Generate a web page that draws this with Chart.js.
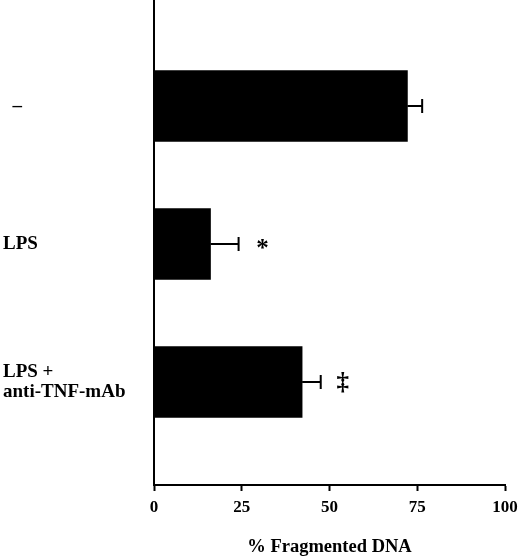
<!DOCTYPE html>
<html lang="en">
<head>
  <meta charset="UTF-8">
  <title>% Fragmented DNA</title>
  <style>
    body {
      margin: 0;
      padding: 0;
      background-color: #ffffff;
    }
    #wrap {
      position: relative;
      width: 520px;
      height: 558px;
    }
  </style>
</head>
<body>

  <div id="wrap">
    <canvas id="dnaChart"></canvas>
  </div>

  <script src="https://cdn.jsdelivr.net/npm/chart.js"></script>
  <script>
    // groups from top to bottom (multi-line labels as arrays)
    const groups = [['  –'], ['LPS'], ['LPS +', 'anti-TNF-mAb']];
    const fragmented = [72.2, 16.1, 42.2];
    const errors = [4.2, 8.0, 5.3];
    // significance marks and where they sit on the % axis
    const marks = ['', '*', '‡'];
    const markAt = [null, 30.9, 53.8];
    const xTicks = [0, 25, 50, 75, 100];

    const serif = 'Liberation Serif, Times New Roman, serif';

    // error bars + significance marks
    const errorBars = {
      id: 'errorBars',
      afterDatasetsDraw(chart) {
        const ctx = chart.ctx;
        const xs = chart.scales.x;
        const ys = chart.scales.y;
        ctx.save();
        ctx.strokeStyle = '#000';
        ctx.fillStyle = '#000';
        ctx.lineWidth = 2;
        fragmented.forEach((v, i) => {
          const x0 = xs.getPixelForValue(v);
          const x1 = xs.getPixelForValue(v + errors[i]);
          const y = ys.getPixelForValue(i);
          ctx.beginPath();
          ctx.moveTo(x0, y);
          ctx.lineTo(x1, y);
          ctx.moveTo(x1, y - 7);
          ctx.lineTo(x1, y + 7);
          ctx.stroke();

          if (marks[i]) {
            ctx.font = 'bold 25px ' + serif;
            ctx.textAlign = 'center';
            ctx.textBaseline = 'alphabetic';
            const m = ctx.measureText(marks[i]);
            const yy = y + (m.actualBoundingBoxAscent - m.actualBoundingBoxDescent) / 2;
            ctx.fillText(marks[i], xs.getPixelForValue(markAt[i]), yy);
          }
        });
        ctx.restore();
      }
    };

    function generateChart() {
      const ctx = document.getElementById('dnaChart').getContext('2d');

      new Chart(ctx, {
        type: 'bar',
        data: {
          datasets: [{
            data: fragmented.map((v, i) => ({ x: v, y: i })),
            backgroundColor: '#000',
            borderWidth: 0,
            barThickness: 71
          }]
        },
        options: {
          indexAxis: 'y',
          responsive: true,
          maintainAspectRatio: false,
          animation: false,
          layout: { padding: { left: 3, right: 15, top: 0, bottom: 0 } },
          plugins: {
            legend: { display: false },
            tooltip: { enabled: false }
          },
          scales: {
            x: {
              type: 'linear',
              min: 0,
              max: 100,
              afterBuildTicks: (scale) => { scale.ticks = xTicks.map(v => ({ value: v })); },
              afterFit: (scale) => {
                scale.height = 73;
                scale.paddingLeft = 0;
                scale.paddingRight = 0;
              },
              grid: {
                drawOnChartArea: false,
                drawTicks: true,
                tickLength: 6,
                tickWidth: 2,
                tickColor: '#000'
              },
              border: { display: true, color: '#000', width: 2 },
              ticks: {
                color: '#000',
                padding: 6,
                maxRotation: 0,
                font: { family: serif, size: 17, weight: 'bold' }
              },
              title: {
                display: true,
                text: '% Fragmented DNA',
                color: '#000',
                padding: 0,
                font: { family: serif, size: 18.5, weight: 'bold' }
              }
            },
            y: {
              type: 'linear',
              reverse: true,
              offset: false,
              bounds: 'data',
              min: -0.768,
              max: 2.746,
              afterBuildTicks: (scale) => { scale.ticks = groups.map((g, i) => ({ value: i })); },
              afterFit: (scale) => {
                scale.width = 151;
                scale.paddingTop = 0;
                scale.paddingBottom = 0;
              },
              grid: { display: false, offset: false },
              border: { display: true, color: '#000', width: 2 },
              ticks: {
                autoSkip: false,
                crossAlign: 'far',
                color: '#000',
                font: { family: serif, size: 19, weight: 'bold', lineHeight: 1.05 },
                callback: (v) => groups[v]
              }
            }
          }
        },
        plugins: [errorBars]
      });
    }

    document.addEventListener('DOMContentLoaded', generateChart);
  </script>

</body>
</html>
